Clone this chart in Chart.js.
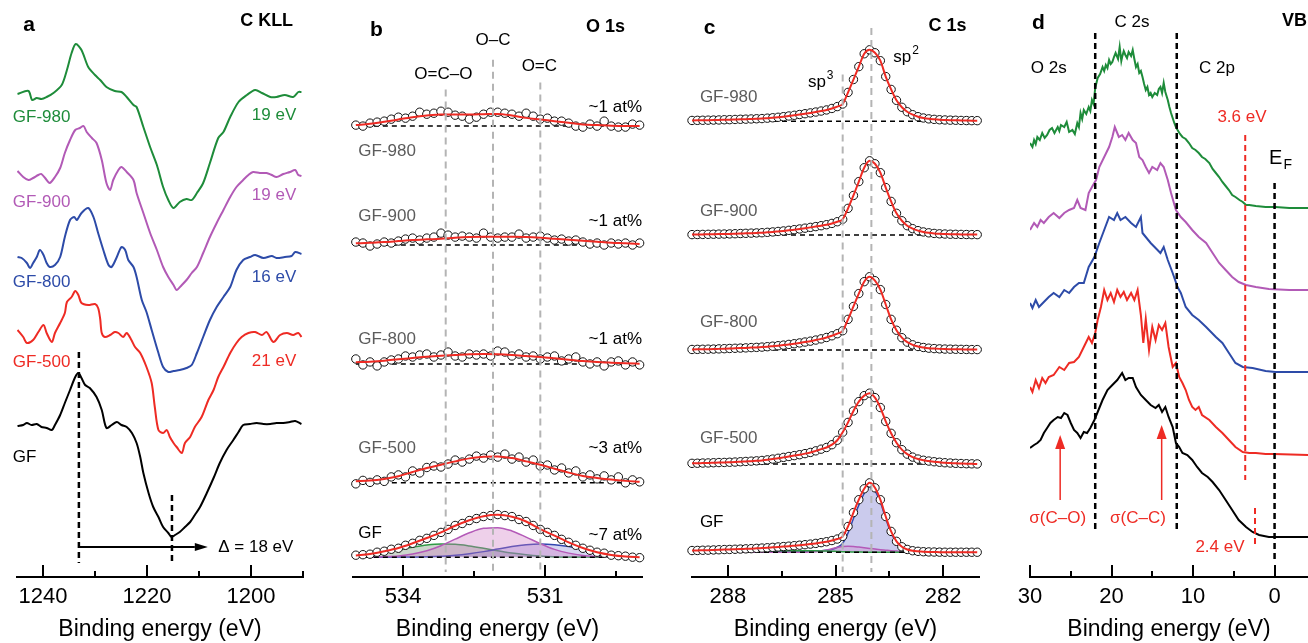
<!DOCTYPE html>
<html>
<head>
<meta charset="utf-8">
<script src="https://cdn.jsdelivr.net/npm/chart.js@4.4.1/dist/chart.umd.min.js"></script>
<style>
html, body { margin: 0; padding: 0; background: #fff; }
#wrap { position: relative; width: 1308px; height: 643px; overflow: hidden; }
canvas { position: absolute; top: 0; }
</style>
</head>
<body>
<div id="wrap">
  <canvas id="pa" width="330" height="643" style="left:0px"></canvas>
  <canvas id="pb" width="330" height="643" style="left:330px"></canvas>
  <canvas id="pc" width="330" height="643" style="left:660px"></canvas>
  <canvas id="pd" width="318" height="643" style="left:990px"></canvas>
</div>
<script>
// ---- panel a : C KLL (binding energy, stacked intensity a.u.)
const aGF980 = [[1244.9,483],[1242.8,486],[1242.1,477],[1241.2,479],[1240.3,478],[1239.3,480],[1238.0,484],[1236.4,492],[1235.4,507],[1234.5,524],[1233.7,533],[1232.6,527],[1231.3,510],[1230.0,502],[1229.0,497],[1227.8,490],[1226.2,486],[1224.9,485],[1223.9,480],[1222.6,472],[1222.0,470],[1220.7,450],[1219.4,430],[1218.1,412],[1216.9,390],[1215.9,377],[1214.9,369],[1213.7,375],[1212.4,378],[1211.4,377],[1210.4,384],[1209.2,394],[1207.9,414],[1206.3,439],[1205.3,445],[1204.0,460],[1202.4,475],[1200.8,482],[1199.2,487],[1197.9,484],[1196.3,480],[1195.1,480],[1193.5,482],[1191.9,480],[1190.9,485],[1190.3,485]];
const aGF900 = [[1244.9,406],[1243.8,400],[1242.8,397],[1241.9,399],[1240.9,402],[1240.3,403],[1239.3,397],[1238.7,394],[1237.7,400],[1236.7,409],[1235.8,424],[1234.8,437],[1233.8,447],[1232.9,449],[1232.2,451],[1231.6,445],[1230.6,439],[1229.7,434],[1228.7,417],[1227.8,394],[1227.1,387],[1226.5,397],[1225.5,407],[1224.9,410],[1223.9,405],[1222.6,397],[1222.0,384],[1220.7,364],[1219.4,344],[1218.1,327],[1216.9,310],[1215.9,300],[1214.9,292],[1214.3,287],[1213.3,292],[1212.4,297],[1211.4,304],[1210.4,310],[1209.2,324],[1207.9,340],[1206.6,354],[1205.3,367],[1204.0,380],[1202.8,390],[1201.5,397],[1200.5,402],[1199.6,405],[1198.3,404],[1197.0,404],[1196.0,402],[1195.1,400],[1193.8,403],[1192.5,405],[1191.5,407],[1190.9,402],[1190.3,401]];
const aGF800 = [[1244.9,320],[1244.1,319],[1243.1,314],[1242.5,309],[1241.9,314],[1241.2,320],[1240.6,327],[1239.9,322],[1239.3,314],[1238.7,310],[1237.7,312],[1236.7,320],[1235.8,340],[1234.8,357],[1234.0,360],[1233.5,357],[1232.6,364],[1231.3,369],[1230.3,360],[1229.4,344],[1228.4,327],[1227.4,312],[1226.8,310],[1225.8,320],[1224.9,330],[1224.2,327],[1223.6,317],[1222.6,310],[1222.0,300],[1221.0,277],[1220.1,265],[1219.1,247],[1217.8,224],[1216.9,210],[1215.9,205],[1214.9,206],[1213.7,207],[1212.4,209],[1211.4,212],[1210.4,224],[1209.2,240],[1207.9,257],[1206.6,270],[1205.3,280],[1204.0,290],[1202.8,307],[1201.5,317],[1200.2,320],[1199.2,322],[1197.6,319],[1196.0,321],[1195.1,319],[1193.5,320],[1192.2,321],[1191.5,325],[1190.3,323]];
const aGF500 = [[1244.9,247],[1243.8,240],[1243.1,234],[1241.9,237],[1240.9,245],[1239.9,252],[1239.3,244],[1238.3,235],[1237.7,244],[1236.7,254],[1235.8,264],[1235.4,275],[1234.5,280],[1233.8,286],[1233.2,282],[1232.6,274],[1231.3,272],[1230.0,273],[1229.4,269],[1229.0,258],[1228.7,244],[1228.1,240],[1227.1,242],[1226.2,245],[1225.5,244],[1224.6,240],[1223.9,244],[1223.0,237],[1222.3,230],[1221.3,224],[1220.1,210],[1219.1,194],[1218.5,170],[1217.8,147],[1216.9,144],[1216.2,147],[1215.6,140],[1214.9,134],[1214.3,130],[1213.3,124],[1212.7,134],[1211.7,140],[1210.8,150],[1209.5,160],[1208.2,177],[1207.2,187],[1206.3,200],[1205.3,210],[1204.0,224],[1202.8,234],[1201.8,240],[1200.5,244],[1199.2,245],[1197.9,242],[1197.0,245],[1195.7,235],[1194.4,242],[1193.1,244],[1191.9,242],[1190.9,244],[1190.3,240]];
const aGF = [[1244.9,151],[1243.8,152],[1243.1,154],[1242.2,152],[1241.2,153],[1240.3,150],[1239.3,149],[1238.3,147],[1237.7,152],[1236.7,162],[1235.8,174],[1234.8,187],[1233.8,200],[1233.2,204],[1232.6,199],[1231.9,192],[1231.0,189],[1229.7,180],[1228.7,167],[1227.8,149],[1226.8,152],[1225.8,155],[1224.9,152],[1223.9,150],[1222.9,144],[1222.0,134],[1221.3,120],[1220.7,104],[1219.7,84],[1218.8,70],[1217.8,60],[1216.9,50],[1215.9,44],[1215.3,40],[1214.6,42],[1213.7,45],[1212.7,50],[1211.7,55],[1210.8,62],[1209.8,70],[1208.5,84],[1207.2,99],[1206.0,114],[1204.7,127],[1203.4,137],[1202.4,145],[1201.5,152],[1200.2,153],[1198.9,154],[1197.6,153],[1196.3,153],[1195.1,154],[1193.8,154],[1192.5,155],[1191.5,156],[1190.3,153]];
const aMajor = [1240, 1220, 1200];
const aMinor = [1230, 1210, 1190];

// ---- panel b : O 1s
const bEnergy = [535.00,534.85,534.70,534.55,534.40,534.25,534.10,533.95,533.80,533.65,533.50,533.35,533.20,533.05,532.90,532.75,532.60,532.45,532.30,532.15,532.00,531.85,531.70,531.55,531.40,531.25,531.10,530.95,530.80,530.65,530.50,530.35,530.20,530.05,529.90,529.75,529.60,529.45,529.30,529.15,529.00];
const bFitEnergy = [535.0,534.7,534.4,534.1,533.8,533.5,533.2,532.9,532.6,532.3,532.0,531.7,531.4,531.1,530.8,530.5,530.2,529.9,529.6,529.3,529.0];
const bSamples = ['GF-980', 'GF-900', 'GF-800', 'GF-500', 'GF'];
const bOffsets = [455, 335, 215, 95, 20];
const bAtPct = ['~1 at%', '~1 at%', '~1 at%', '~3 at%', '~7 at%'];
const bDots980 = [1,0,3,4,5,7,9,8,10,14,12,13,15,14,11,10,7,9,12,14,14,13,12,10,13,10,7,8,5,5,3,0,-1,2,0,5,0,-1,-1,2,1];
const bDots900 = [3,2,-1,1,3,2,4,6,7,5,7,8,12,10,8,9,8,7,12,8,7,8,8,11,7,8,9,7,5,6,4,5,3,1,2,0,2,1,2,0,2];
const bDots800 = [5,-1,2,-2,2,4,5,8,7,9,10,7,9,12,8,7,10,9,10,8,13,12,8,10,7,8,5,7,8,3,5,7,2,0,2,-2,2,3,-1,2,-1];
const bDots500 = [-1,2.5,0.5,3,1.5,6,8,6,12,10,15.5,17,16,19,23,21,24,27,25,28,26,29,24,26,21,23,17,18,13,15,10,12,6,8,4,7,3,6,0,3,1];
const bDotsGF = [2,2.5,3,5,6,8,9,12,14,17,19,22,25,28,32,34,37,39,41,42,43,42,41,38,36,32,28,25,22,18,15,12,9,7,5,4,2,1.5,1,0,-0.5];
const bFit980 = [1,2.3,4.3,6.7,9,10.7,11.7,11.7,11.7,12,12.3,10.7,8.3,6.7,5,3.3,1.7,1,0.3,0,0];
const bFit900 = [1.7,2.3,3,4,5,5.7,6.3,7.3,8,8.3,8.3,8.3,8,7.3,6.3,5.3,4.3,3.3,2.3,1.7,1];
const bFit800 = [1.7,2.3,3.3,4.7,6,7.3,8.3,9,9.7,10,9.7,9,8,7,5.7,4.3,3,2,1.3,0.7,0.3];
const bFit500 = [1.7,2.3,4,6.7,11,15,18.3,21.7,24.7,26.3,26.7,25,21.7,18.3,14.3,10.3,7,5,3.3,2,1];
const bFitGF = [1.7,3.3,6,9.3,14,19.3,25,31.7,37.3,41.3,42.7,40.7,36,28.3,21.7,15,9.3,5,2.3,0.7,0];
const bGreenGF = [1.6,3.0,4.9,7.4,10.0,12.2,13.2,13.0,11.4,9.0,6.4,4.1,2.4,1.2,0.5,0.2,0.1,0,0,0,0];
const bPurpleGF = [0,0.1,0.5,1.3,3.1,6.5,11.6,18.2,24.6,29.1,29.8,26.5,20.3,13.6,7.9,4.1,1.7,0.7,0.2,0.1,0];
const bBlueGF = [0,0,0,0.1,0.2,0.4,1.0,1.9,3.5,5.6,8.2,10.8,12.6,13.3,12.6,10.8,8.2,5.6,2.5,1.0,0.3];
const bRefLines = [533.1, 532.1, 531.1];
const bMajor = [534, 531];
const bMinor = [532.5, 529.5];

// ---- panel c : C 1s
const cEnergy = [289.00,288.85,288.70,288.55,288.40,288.25,288.10,287.95,287.80,287.65,287.50,287.35,287.20,287.05,286.90,286.75,286.60,286.45,286.30,286.15,286.00,285.85,285.70,285.55,285.40,285.25,285.10,284.95,284.80,284.65,284.50,284.35,284.20,284.05,283.90,283.75,283.60,283.45,283.30,283.15,283.00,282.85,282.70,282.55,282.40,282.25,282.10,281.95,281.80,281.65,281.50,281.35,281.20,281.05];
const cSamples = ['GF-980', 'GF-900', 'GF-800', 'GF-500', 'GF'];
const cOffsets = [460, 345, 229, 114, 25];
const c980 = [0.7,0.8,0.9,1.0,1.1,1.2,1.4,1.5,1.7,1.9,2.0,2.2,2.4,2.6,3.0,3.4,3.9,4.5,5.2,5.9,6.7,7.5,8.3,9.2,10.2,11.3,12.8,14.7,17.3,29,42,55,68,72,69,61,45,32,21,14,9.5,6.5,4.5,3.2,2.3,1.8,1.4,1.2,1.0,0.9,0.7,0.6,0.5,0.5];
const c900 = [0.5,0.6,0.7,0.8,0.9,1.0,1.1,1.2,1.4,1.6,1.8,2.0,2.2,2.4,2.8,3.2,3.7,4.2,4.8,5.5,6.2,7.0,7.8,8.6,9.5,10.5,11.8,13.5,16,27,40,54,68,75,72,63,48,34,22,14.5,9.5,6.5,4.5,3.2,2.3,1.7,1.3,1.1,0.9,0.8,0.7,0.6,0.5,0.5];
const c800 = [0.6,0.7,0.8,0.9,1.0,1.2,1.4,1.6,1.8,2.0,2.2,2.5,2.7,3.0,3.4,3.9,4.4,5.0,5.7,6.4,7.2,8.1,9.0,10.1,11.3,12.7,14.4,16.5,19.5,31,44,57,69,74,70,61,46,31,20,12.5,8,5.3,3.6,2.6,1.9,1.5,1.2,1.0,0.9,0.8,0.7,0.6,0.5,0.5];
const c500 = [0.7,0.8,1.0,1.1,1.3,1.5,1.6,1.8,2.0,2.3,2.6,2.9,3.2,3.6,4.2,5.0,5.8,6.7,7.6,8.5,9.4,10.5,11.7,13.3,15,16.7,19.5,24,32,42,53.5,63,69,71.5,67,57,43,31,21.5,14.5,10,7,5,3.8,3,2.3,1.8,1.3,1.0,0.7,0.5,0.3,0.2,0.1];
const cGF = [1.7,1.8,2.0,2.1,2.3,2.5,2.7,2.8,3.0,3.2,3.4,3.6,3.9,4.2,4.5,4.9,5.3,5.7,6.1,6.6,7.1,7.6,8.2,8.9,9.7,10.6,11.8,13.3,16,26,40,53,64,70,65,53,36,21,11,5.5,2.8,1.5,0.9,0.5,0.3,0.2,0.1,0,0,0,0,0,0,0];
const cBlueGF = [0.3,0.3,0.4,0.4,0.5,0.5,0.6,0.6,0.7,0.7,0.8,0.8,0.9,0.9,1.0,1.0,1.1,1.1,1.2,1.2,1.3,1.3,1.4,1.5,1.6,2.0,2.8,5,9,19.5,34,47.5,59.5,66,61.8,50.4,33.9,19.4,9.8,4.7,2.3,1.2,0.7,0.5,0.3,0.2,0.1,0,0,0,0,0,0,0];
const cPurpleGF = [0,0,0,0,0,0,0,0,0,0,0,0,0,0,0,0,0,0,0,0,0,0,0.3,0.6,1.2,2.2,3.5,4.8,5.8,6,5.8,5.2,4.5,3.8,3.2,2.6,2.1,1.6,1.2,0.8,0.5,0.3,0.2,0,0,0,0,0,0,0,0,0,0,0];
const cGreenGF = [1.5,1.5,1.5,1.5,1.5,1.5,1.5,1.5,1.5,1.5,1.5,1.5,1.5,1.5,1.5,1.5,1.5,1.5,1.5,1.5,1.5,1.5,1.4,1.4,1.3,1.2,1.0,0.8,0.6,0.4,0.3,0.2,0.1,0,0,0,0,0,0,0,0,0,0,0,0,0,0,0,0,0,0,0,0,0];
const cRefLines = [284.8, 284.0];
const cMajor = [288, 285, 282];
const cMinor = [286.5, 283.5];

// ---- panel d : valence band
const dGF980 = [[30.0,434],[29.7,430],[29.5,437],[29.3,433],[29.1,440],[28.8,437],[28.5,444],[28.2,439],[27.9,442],[27.6,447],[27.3,449],[27.0,444],[26.6,450],[26.4,446],[26.2,452],[25.8,450],[25.5,455],[25.2,445],[24.8,447],[24.5,443],[24.2,454],[24.0,450],[23.8,464],[23.6,458],[23.4,467],[23.1,463],[22.8,470],[22.6,466],[22.4,477],[22.2,473],[22.0,489],[21.7,499],[21.4,503],[21.1,510],[20.9,506],[20.7,512],[20.5,509],[20.3,517],[20.1,513],[19.9,515],[19.7,520],[19.5,524],[19.2,518],[19.0,530],[18.8,516],[18.7,520],[18.5,526],[18.3,522],[18.1,519],[17.9,525],[17.6,521],[17.4,527],[17.2,518],[17.0,510],[16.8,513],[16.6,504],[16.4,506],[16.2,500],[16.0,493],[15.8,487],[15.6,490],[15.4,482],[15.2,484],[15.0,480],[14.7,484],[14.4,482],[14.2,488],[14.0,490],[13.8,484],[13.6,494],[13.4,485],[13.1,477],[12.9,470],[12.7,464],[12.5,459],[12.3,454],[12.1,450],[11.9,447],[11.6,443],[11.3,440],[10.9,438],[10.5,434],[10.1,429],[9.7,427],[9.3,424],[8.9,420],[8.5,418],[8.0,414],[7.6,408],[7.2,404],[6.8,400],[6.4,395],[6.0,391],[5.6,387],[5.2,382],[4.8,380],[4.3,377],[3.9,375],[3.5,372],[3.1,372],[2.3,371],[1.1,370],[-0.1,370],[-1.8,369],[-4.2,369]];
const dGF900 = [[30.0,347],[29.5,354],[29.1,350],[28.7,357],[28.3,354],[27.7,360],[27.1,364],[26.4,359],[25.8,364],[25.2,367],[24.6,369],[24.2,377],[23.8,369],[23.2,367],[22.8,384],[22.4,390],[21.9,397],[21.5,410],[20.9,420],[20.3,430],[19.9,440],[19.6,450],[19.1,440],[18.7,442],[18.3,437],[17.9,444],[17.4,437],[17.0,434],[16.6,420],[16.2,417],[15.8,410],[15.4,404],[15.0,410],[14.4,407],[14.0,414],[13.6,410],[13.1,397],[12.7,384],[12.1,367],[11.5,360],[10.9,355],[10.1,347],[9.3,340],[8.4,334],[7.6,324],[6.8,314],[6.0,307],[5.2,300],[4.4,295],[3.5,292],[2.3,290],[0.7,288],[-1.8,287],[-4.2,287]];
const dGF800 = [[30.0,274],[29.7,269],[29.3,277],[28.9,270],[28.3,275],[27.7,280],[27.1,284],[26.4,280],[25.8,287],[25.2,284],[24.6,290],[24.0,294],[23.4,294],[22.8,310],[22.1,320],[21.5,334],[20.9,347],[20.3,360],[19.7,357],[19.3,364],[18.9,357],[18.3,360],[17.6,354],[17.0,350],[16.4,360],[16.2,344],[15.8,340],[15.2,334],[14.6,329],[14.0,324],[13.6,330],[13.1,317],[12.5,304],[11.9,290],[11.5,284],[10.9,270],[10.1,262],[9.3,257],[8.4,250],[7.2,240],[6.4,234],[5.6,224],[4.8,214],[3.9,210],[2.7,209],[1.1,206],[-0.1,205],[-4.2,205]];
const dGF500 = [[30.0,190],[29.7,185],[29.3,197],[28.9,189],[28.5,199],[28.1,194],[27.7,200],[27.1,202],[26.4,210],[25.8,207],[25.2,214],[24.6,215],[24.0,220],[23.4,230],[22.8,240],[22.4,234],[22.0,244],[21.7,257],[21.3,270],[20.9,287],[20.5,277],[20.1,284],[19.7,275],[19.3,287],[18.9,280],[18.5,285],[18.1,277],[17.6,284],[17.2,277],[16.8,287],[16.4,262],[16.1,234],[15.8,258],[15.4,227],[15.0,250],[14.6,237],[14.2,252],[13.8,247],[13.4,254],[13.0,230],[12.5,210],[12.1,214],[11.7,200],[11.3,194],[10.9,187],[10.5,177],[10.1,170],[9.7,167],[9.3,170],[8.9,162],[8.0,157],[7.2,150],[6.4,144],[5.6,137],[4.8,130],[3.9,125],[3.1,124],[2.3,124],[1.1,123],[0.1,123],[-4.2,122]];
const dGF = [[30.0,129],[29.5,132],[29.1,134],[28.7,137],[28.3,144],[27.9,149],[27.5,154],[27.1,157],[26.6,160],[26.2,159],[25.8,164],[25.4,162],[25.0,154],[24.6,147],[24.2,144],[23.8,139],[23.4,145],[23.0,144],[22.6,149],[22.1,157],[21.7,165],[21.1,177],[20.5,187],[19.9,192],[19.3,197],[18.7,204],[18.3,197],[17.9,199],[17.4,199],[17.0,190],[16.4,182],[15.8,177],[15.2,172],[14.6,169],[14.2,172],[13.8,165],[13.4,170],[13.0,160],[12.5,150],[12.1,134],[11.7,130],[11.3,124],[10.7,122],[10.1,117],[9.5,110],[8.9,104],[8.2,100],[7.6,95],[6.8,87],[6.0,77],[5.2,67],[4.4,57],[3.5,50],[2.7,45],[1.9,42],[0.7,40],[-0.6,40],[-4.2,40]];
const dMajor = [30, 20, 10, 0];
const dMinor = [25, 15, 5];

const FONT = '"Liberation Sans", Arial, Helvetica, sans-serif';
const GREEN = '#1e8c3a', PURPLE = '#b25ab6', BLUE = '#2d4ba8', RED = '#ee2b24';
const LABEL = '#5c5c5c', REF = '#b4b4b4';

const xy = pairs => pairs.map(([x, y]) => ({x, y}));
const onGrid = (xs, ys, off) => xs.map((x, i) => ({x, y: ys[i] + off}));

function curve(data, color, width, order, extra) {
  return Object.assign({data, borderColor: color, borderWidth: width, pointRadius: 0,
    fill: false, tension: 0, order}, extra || {});
}
function vline(x, y0, y1, color, width, dash) {
  return {data: [{x, y: y0}, {x, y: y1}], borderColor: color, borderWidth: width,
    borderDash: dash, pointRadius: 0, fill: false, order: 1};
}
function hline(x0, x1, y) {
  return {data: [{x: x0, y}, {x: x1, y}], borderColor: '#000', borderWidth: 1.5,
    borderDash: [5, 4], pointRadius: 0, fill: false, order: 4};
}
function dots(data, r) {
  return {data, showLine: false, pointRadius: r, pointBorderWidth: 1,
    pointBorderColor: '#111', pointBackgroundColor: '#fff', order: 3, clip: false};
}

// ticks pointing inward, arrows and text labels
function decor(spec) {
  return {
    id: 'decor',
    afterDatasetsDraw(chart) {
      const {ctx, chartArea: a, scales: {x, y}} = chart;
      ctx.save();
      ctx.strokeStyle = '#000';
      ctx.lineWidth = 2;
      const tick = (v, len) => {
        const px = Math.round(x.getPixelForValue(v));
        ctx.beginPath(); ctx.moveTo(px, a.bottom); ctx.lineTo(px, a.bottom - len); ctx.stroke();
      };
      spec.major.forEach(v => tick(v, 12));
      spec.minor.forEach(v => tick(v, 6));

      (spec.arrows || []).forEach(ar => {
        const x0 = x.getPixelForValue(ar.x0), y0 = y.getPixelForValue(ar.y0);
        const x1 = x.getPixelForValue(ar.x1), y1 = y.getPixelForValue(ar.y1);
        const ang = Math.atan2(y1 - y0, x1 - x0), L = ar.len, W = ar.half;
        const bx = x1 - L * Math.cos(ang), by = y1 - L * Math.sin(ang);
        ctx.strokeStyle = ar.color; ctx.fillStyle = ar.color; ctx.lineWidth = ar.width;
        ctx.beginPath(); ctx.moveTo(x0, y0); ctx.lineTo(bx, by); ctx.stroke();
        ctx.beginPath();
        ctx.moveTo(x1, y1);
        ctx.lineTo(bx + W * Math.sin(ang), by - W * Math.cos(ang));
        ctx.lineTo(bx - W * Math.sin(ang), by + W * Math.cos(ang));
        ctx.closePath(); ctx.fill();
      });

      ctx.textBaseline = 'middle';
      (spec.notes || []).forEach(n => {
        const size = n.size || 17;
        ctx.font = (n.bold ? 'bold ' : '') + size + 'px ' + FONT;
        ctx.fillStyle = n.color || '#000';
        ctx.textAlign = n.align || 'left';
        const px = x.getPixelForValue(n.x), py = y.getPixelForValue(n.y);
        ctx.fillText(n.t, px, py);
        if (n.sup || n.sub) {
          const w = ctx.measureText(n.t).width;
          ctx.font = Math.round(size * 0.68) + 'px ' + FONT;
          ctx.textAlign = 'left';
          ctx.fillText(n.sup || n.sub, px + w + 1, py + (n.sup ? -7 : 7));
        }
      });
      ctx.restore();
    }
  };
}

function panel(id, min, max, padL, padR, datasets, spec) {
  return new Chart(document.getElementById(id), {
    type: 'line',
    data: {datasets},
    options: {
      responsive: false,
      animation: false,
      events: [],
      layout: {padding: {left: padL, right: padR, top: 0, bottom: 0}},
      plugins: {legend: {display: false}, tooltip: {enabled: false}},
      scales: {
        x: {
          type: 'linear', reverse: true, min, max,
          afterBuildTicks: s => { s.ticks = spec.major.map(v => ({value: v})); },
          afterFit: s => { s.height = 66; },
          grid: {display: true, drawOnChartArea: false, drawTicks: false},
          border: {display: true, color: '#000', width: 2},
          ticks: {color: '#000', padding: 7, maxRotation: 0, autoSkip: false,
            font: {family: FONT, size: 22}, callback: v => String(v)},
          title: {display: true, text: 'Binding energy (eV)', color: '#000',
            font: {family: FONT, size: 23}, padding: {top: 0, bottom: 0}}
        },
        y: {display: false, min: 0, max: 577}
      }
    },
    plugins: [decor(spec)]
  });
}

// ---------- a
panel('pa', 1190, 1245, 17, 27, [
  curve(xy(aGF980), GREEN, 2, 2, {tension: 0.3}),
  curve(xy(aGF900), PURPLE, 2, 2, {tension: 0.3}),
  curve(xy(aGF800), BLUE, 2, 2, {tension: 0.3}),
  curve(xy(aGF500), RED, 2, 2, {tension: 0.3}),
  curve(xy(aGF), '#000', 2, 2, {tension: 0.3}),
  vline(1233.1, 225, 14, '#000', 2.5, [6, 4]),
  vline(1215.2, 82, 14, '#000', 2.5, [6, 4])
], {
  major: aMajor, minor: aMinor,
  arrows: [{x0: 1233.1, y0: 30, x1: 1208.3, y1: 30, color: '#000', width: 1.8, len: 13, half: 4}],
  notes: [
    {t: 'a', x: 1243.8, y: 552, bold: true, size: 21},
    {t: 'C KLL', x: 1191.9, y: 556, bold: true, size: 18, align: 'right'},
    {t: 'GF-980', x: 1245.8, y: 460, color: GREEN},
    {t: '19 eV', x: 1191.3, y: 462, color: GREEN, align: 'right'},
    {t: 'GF-900', x: 1245.8, y: 375, color: PURPLE},
    {t: '19 eV', x: 1191.3, y: 382, color: PURPLE, align: 'right'},
    {t: 'GF-800', x: 1245.8, y: 295, color: BLUE},
    {t: '16 eV', x: 1191.3, y: 300, color: BLUE, align: 'right'},
    {t: 'GF-500', x: 1245.8, y: 215, color: RED},
    {t: '21 eV', x: 1191.3, y: 216, color: RED, align: 'right'},
    {t: 'GF', x: 1245.8, y: 120},
    {t: 'Δ = 18 eV', x: 1206.3, y: 30}
  ]
});

// ---------- b
const bDotSets = [bDots980, bDots900, bDots800, bDots500, bDotsGF];
const bFitSets = [bFit980, bFit900, bFit800, bFit500, bFitGF];
const bData = [];
bOffsets.forEach((off, i) => {
  bData.push(hline(535.0, 529.0, off));
  bData.push(dots(onGrid(bEnergy, bDotSets[i], off), 4.2));
  bData.push(curve(onGrid(bFitEnergy, bFitSets[i], off), RED, 2, 2, {cubicInterpolationMode: 'monotone'}));
});
const gfB = bOffsets[4];
bData.push(curve(onGrid(bFitEnergy, bGreenGF, gfB), '#2f9a45', 1.5, 6,
  {cubicInterpolationMode: 'monotone', fill: {value: gfB}, backgroundColor: 'rgba(110,140,110,0.35)'}));
bData.push(curve(onGrid(bFitEnergy, bPurpleGF, gfB), '#b45ab8', 1.5, 5,
  {cubicInterpolationMode: 'monotone', fill: {value: gfB}, backgroundColor: 'rgba(205,120,195,0.35)'}));
bData.push(curve(onGrid(bFitEnergy, bBlueGF, gfB), '#3348b0', 1.5, 5,
  {cubicInterpolationMode: 'monotone', fill: {value: gfB}, backgroundColor: 'rgba(120,120,210,0.3)'}));
bData.push(vline(bRefLines[0], 492, 5, REF, 2, [7, 5]));
bData.push(vline(bRefLines[1], 522, 5, REF, 2, [7, 5]));
bData.push(vline(bRefLines[2], 499, 5, REF, 2, [7, 5]));
const bLabelY = [430, 364, 240, 130, 44];
const bPctY = [474, 359, 240, 130, 42];
panel('pb', 528.95, 535.06, 23, 18, bData, {
  major: bMajor, minor: bMinor,
  notes: [
    {t: 'b', x: 534.70, y: 552, bold: true, size: 21},
    {t: 'O 1s', x: 529.31, y: 555, bold: true, size: 18, align: 'right'},
    {t: 'O–C', x: 532.10, y: 542, align: 'center'},
    {t: 'O=C–O', x: 533.15, y: 507, align: 'center'},
    {t: 'O=C', x: 531.12, y: 515, align: 'center'}
  ].concat(bSamples.map((s, i) => ({t: s, x: 534.95, y: bLabelY[i], color: i === 4 ? '#000' : LABEL})))
   .concat(bAtPct.map((s, i) => ({t: s, x: 528.95, y: bPctY[i], align: 'right'})))
});

// ---------- c
const cSets = [c980, c900, c800, c500, cGF];
const cData = [];
cOffsets.forEach((off, i) => {
  cData.push(hline(289.0, 281.05, off));
  cData.push(dots(onGrid(cEnergy, cSets[i], off), 4.2));
  cData.push(curve(onGrid(cEnergy, cSets[i], off), RED, 2, 2, {cubicInterpolationMode: 'monotone'}));
});
const gfC = cOffsets[4];
cData.push(curve(onGrid(cEnergy, cGreenGF, gfC), '#2f9a45', 1.5, 5, {cubicInterpolationMode: 'monotone'}));
cData.push(curve(onGrid(cEnergy, cPurpleGF, gfC), '#b45ab8', 1.5, 5,
  {cubicInterpolationMode: 'monotone', fill: {value: gfC}, backgroundColor: 'rgba(205,120,195,0.3)'}));
cData.push(curve(onGrid(cEnergy, cBlueGF, gfC), '#3348b0', 1.5, 6,
  {cubicInterpolationMode: 'monotone', fill: {value: gfC}, backgroundColor: 'rgba(140,140,215,0.45)'}));
cData.push(vline(cRefLines[0], 507, 5, REF, 2, [7, 5]));
cData.push(vline(cRefLines[1], 554, 5, REF, 2, [7, 5]));
const cLabelY = [484, 369, 257, 140, 55];
panel('pc', 281.0, 289.0, 32, 11, cData, {
  major: cMajor, minor: cMinor,
  notes: [
    {t: 'c', x: 288.67, y: 554, bold: true, size: 21},
    {t: 'C 1s', x: 281.35, y: 556, bold: true, size: 18, align: 'right'},
    {t: 'sp', sup: '3', x: 285.77, y: 499},
    {t: 'sp', sup: '2', x: 283.39, y: 524}
  ].concat(cSamples.map((s, i) => ({t: s, x: 288.78, y: cLabelY[i], color: i === 4 ? '#000' : LABEL})))
});

// ---------- d
panel('pd', -4.1, 30, 40, 0, [
  curve(xy(dGF980), GREEN, 2, 2),
  curve(xy(dGF900), PURPLE, 2, 2),
  curve(xy(dGF800), BLUE, 2, 2),
  curve(xy(dGF500), RED, 2, 2),
  curve(xy(dGF), '#000', 2, 2),
  vline(22, 544, 44, '#000', 2.5, [6, 4]),
  vline(12, 544, 44, '#000', 2.5, [6, 4]),
  vline(0, 394, 17, '#000', 2.5, [6, 4]),
  vline(3.6, 442, 97, RED, 2, [6, 4]),
  vline(2.4, 69, 30, RED, 2, [6, 4])
], {
  major: dMajor, minor: dMinor,
  arrows: [
    {x0: 26.3, y0: 77, x1: 26.3, y1: 142, color: RED, width: 1.5, len: 14, half: 5},
    {x0: 13.85, y0: 77, x1: 13.85, y1: 152, color: RED, width: 1.5, len: 14, half: 5}
  ],
  notes: [
    {t: 'd', x: 29.75, y: 554, bold: true, size: 21},
    {t: 'C 2s', x: 17.5, y: 555, align: 'center'},
    {t: 'VB', x: -0.9, y: 556, bold: true, size: 18},
    {t: 'O 2s', x: 29.9, y: 509},
    {t: 'C 2p', x: 9.26, y: 509},
    {t: '3.6 eV', x: 4.0, y: 460, align: 'center', color: RED},
    {t: 'E', sub: 'F', x: 0.67, y: 419, size: 20},
    {t: 'σ(C–O)', x: 26.6, y: 59, align: 'center', color: RED},
    {t: 'σ(C–C)', x: 16.75, y: 59, align: 'center', color: RED},
    {t: '2.4 eV', x: 6.7, y: 30, align: 'center', color: RED}
  ]
});
</script>
</body>
</html>
